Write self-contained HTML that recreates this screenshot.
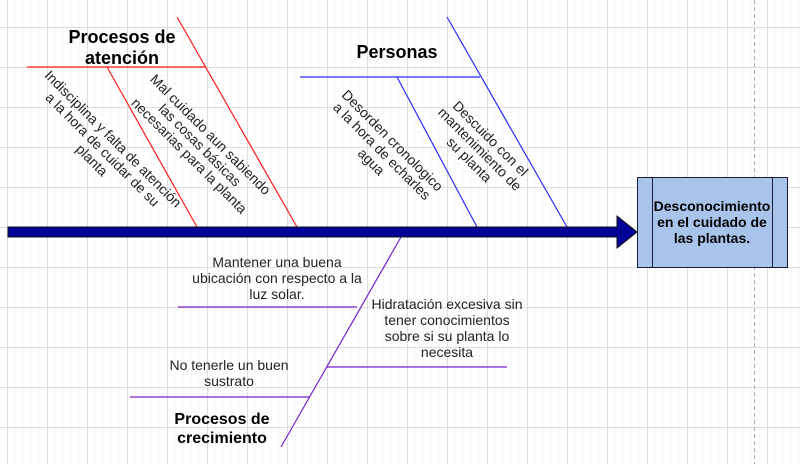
<!DOCTYPE html>
<html><head><meta charset="utf-8"><style>
html,body{margin:0;padding:0;background:#fff;}
svg{display:block;font-family:"Liberation Sans",Arial,sans-serif;}
</style></head><body>
<svg width="800" height="464" viewBox="0 0 800 464" xmlns="http://www.w3.org/2000/svg">
<defs>
<pattern id="minor" width="8" height="8" patternUnits="userSpaceOnUse" x="7" y="3">
<path d="M0 0H8M0 0V8" stroke="#f3f3f3" stroke-width="1" fill="none"/>
</pattern>
<pattern id="major" width="40" height="40" patternUnits="userSpaceOnUse" x="7" y="27">
<path d="M0 0.5H40M0.5 0V40" stroke="#dedede" stroke-width="1" fill="none"/>
</pattern>
</defs>
<rect width="800" height="464" fill="url(#minor)"/>
<rect width="800" height="464" fill="url(#major)"/>
<line x1="754.5" y1="0" x2="754.5" y2="464" stroke="#aaa" stroke-dasharray="4 3"/>

<g stroke="#ff1a1a" stroke-width="1.2">
<line x1="27" y1="67" x2="206" y2="67"/>
<line x1="177" y1="17" x2="297" y2="227"/>
<line x1="107" y1="67" x2="197" y2="227"/>
</g>
<g stroke="#2a2aff" stroke-width="1.2">
<line x1="300" y1="77" x2="480" y2="77"/>
<line x1="447" y1="17" x2="567" y2="227"/>
<line x1="397" y1="77" x2="477" y2="227"/>
</g>
<g stroke="#7a22cc" stroke-width="1.2">
<line x1="401" y1="237" x2="281" y2="447"/>
<line x1="178" y1="307" x2="357" y2="307"/>
<line x1="327" y1="367" x2="507" y2="367"/>
<line x1="130" y1="397" x2="310" y2="397"/>
</g>

<polygon points="8,227 617,227 617,216 637,232 617,248 617,237 8,237" fill="#000099" stroke="#111" stroke-width="1"/>

<rect x="637.5" y="177.5" width="150" height="90" fill="#a9c4eb" stroke="#1a1a3a" stroke-width="1"/>
<line x1="652.5" y1="177" x2="652.5" y2="268" stroke="#1a1a3a"/>
<line x1="772.5" y1="177" x2="772.5" y2="268" stroke="#1a1a3a"/>
<g font-size="14" font-weight="bold" text-anchor="middle" fill="#000">
<text x="712" y="211">Desconocimiento</text>
<text x="712" y="227">en el cuidado de</text>
<text x="712" y="243">las plantas.</text>
</g>

<g font-weight="bold" text-anchor="middle" fill="#000">
<text x="122" y="43" font-size="18">Procesos de</text>
<text x="122" y="64" font-size="18">atención</text>
<text x="397" y="58" font-size="18">Personas</text>
<text x="222" y="424" font-size="16">Procesos de</text>
<text x="222" y="443" font-size="16">crecimiento</text>
</g>

<g font-size="14" text-anchor="middle" fill="#222">
<g transform="translate(97,155) rotate(45)">
<text x="0" y="-18">Indisciplina y falta de atención</text>
<text x="0" y="-3">a la hora de cuidar de su</text>
<text x="0" y="12">planta</text>
</g>
<g transform="translate(200,145) rotate(45)">
<text x="0" y="-10">Mal cuidado aun sabiendo</text>
<text x="0" y="5">las cosas básicas</text>
<text x="0" y="20">necesarias para la planta</text>
</g>
<g transform="translate(382,151) rotate(45)">
<text x="0" y="-10">Desorden cronologico</text>
<text x="0" y="5">a la hora de echarles</text>
<text x="0" y="20">agua</text>
</g>
<g transform="translate(480,149) rotate(45)">
<text x="0" y="-10">Descuido con el</text>
<text x="0" y="5">mantenimiento de</text>
<text x="0" y="20">su planta</text>
</g>
</g>

<g font-size="14" text-anchor="middle" fill="#222">
<text x="277" y="267">Mantener una buena</text>
<text x="277" y="283">ubicación con respecto a la</text>
<text x="277" y="299">luz solar.</text>
<text x="447" y="309">Hidratación excesiva sin</text>
<text x="447" y="325">tener conocimientos</text>
<text x="447" y="341">sobre si su planta lo</text>
<text x="447" y="357">necesita</text>
<text x="229" y="370">No tenerle un buen</text>
<text x="229" y="386">sustrato</text>
</g>
</svg>
</body></html>
